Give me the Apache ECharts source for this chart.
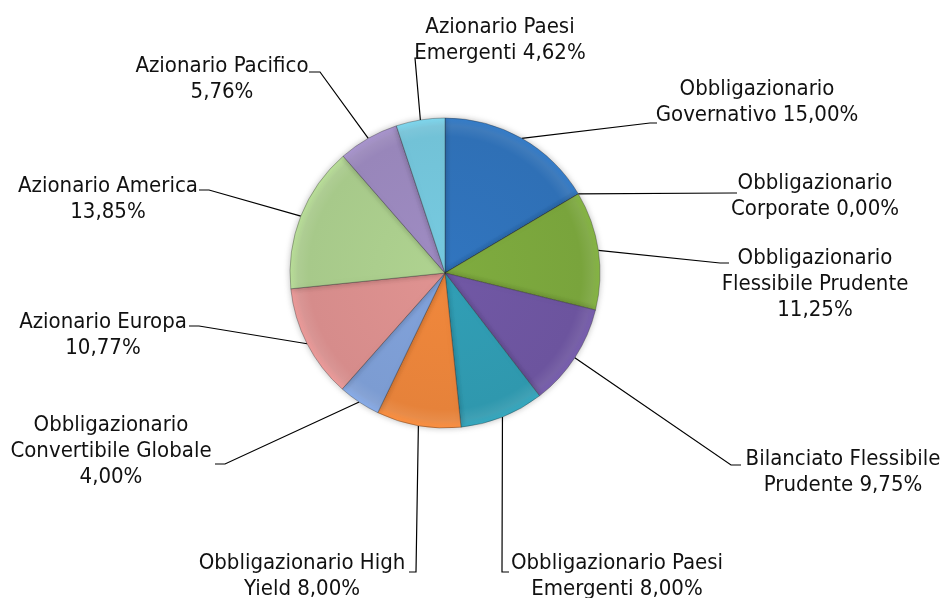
<!DOCTYPE html>
<html>
<head>
<meta charset="UTF-8">
<title>Composizione portafoglio</title>
<script src="https://cdn.jsdelivr.net/npm/echarts@6/dist/echarts.min.js"></script>
<style>
  html, body { margin: 0; padding: 0; background: #fff; }
</style>
</head>
<body>
<div id="container" style="width: 944px; height: 598px;"></div>
<script>
// categorie (con gli a-capo delle etichette) e valori in %
var names = [
    'Obbligazionario\nGovernativo',
    'Obbligazionario\nCorporate',
    'Obbligazionario\nFlessibile Prudente',
    'Bilanciato Flessibile\nPrudente',
    'Obbligazionario Paesi\nEmergenti',
    'Obbligazionario High\nYield',
    'Obbligazionario\nConvertibile Globale',
    'Azionario Europa',
    'Azionario America',
    'Azionario Pacifico',
    'Azionario Paesi\nEmergenti'
];
var values = [15.00, 0.00, 11.25, 9.75, 8.00, 8.00, 4.00, 10.77, 13.85, 5.76, 4.62];
// separatore tra nome e valore nell'etichetta
var seps = [' ', ' ', '\n', ' ', ' ', ' ', '\n', '\n', '\n', '\n', ' '];
var colors = ['#2f70b6', '#c0504d', '#79a43c', '#6c549e', '#2f98ae', '#e6823a',
              '#7c9cd2', '#d68c8b', '#a7c98a', '#9886ba', '#72c2d7'];

// posizione delle etichette: centro testo, gomito della linea, fine della linea
var labelPos = [
    { cx: 757, cy: 102, p1: [650, 123], p2: [657, 123] },
    { cx: 815, cy: 196, p1: [733, 193], p2: [737, 193] },
    { cx: 815, cy: 284, p1: [720, 263], p2: [729, 263] },
    { cx: 843, cy: 472, p1: [731, 465], p2: [741, 465] },
    { cx: 617, cy: 576, p1: [502, 572], p2: [509, 572] },
    { cx: 302, cy: 576, p1: [416, 572], p2: [409, 572] },
    { cx: 111, cy: 451, p1: [225, 464], p2: [215, 464] },
    { cx: 103, cy: 335, p1: [199, 326], p2: [189, 326] },
    { cx: 108, cy: 199, p1: [209, 190], p2: [199, 190] },
    { cx: 222, cy: 79,  p1: [320, 72],  p2: [309, 72] },
    { cx: 500, cy: 40,  p1: [415, 58],  p2: [418, 58] }
];

var CX = 445, CY = 273, R = 155;

function fmt(v) {
    return v.toFixed(2).replace('.', ',') + '%';
}

// leggero effetto smussato sul bordo delle fette
function shade(c) {
    return {
        type: 'radial', x: CX, y: CY, r: R, global: true,
        colorStops: [
            { offset: 0, color: echarts.color.lift(c, -0.05) },
            { offset: 0.88, color: c },
            { offset: 0.95, color: echarts.color.lift(c, 0.08) },
            { offset: 1, color: echarts.color.lift(c, -0.12) }
        ]
    };
}

var data = [];
for (var i = 0; i < names.length; i++) {
    data.push({ name: names[i], value: values[i], itemStyle: { color: shade(colors[i]) } });
}

var mychart = echarts.init(document.getElementById('container'));

var option = {
    animation: false,
    backgroundColor: '#ffffff',
    series: [{
        type: 'pie',
        center: [CX, CY],
        radius: R,
        startAngle: 90,
        clockwise: true,
        avoidLabelOverlap: false,
        stillShowZeroSum: true,
        data: data,
        itemStyle: {
            borderColor: 'rgba(40,40,40,0.35)',
            borderWidth: 1,
            shadowBlur: 6,
            shadowColor: 'rgba(0,0,0,0.25)'
        },
        label: {
            show: true,
            position: 'outside',
            color: '#111',
            fontFamily: '"DejaVu Sans Condensed", "DejaVu Sans", sans-serif',
            fontSize: 22,
            lineHeight: 26,
            align: 'center',
            formatter: function (p) {
                return p.name + seps[p.dataIndex] + fmt(p.value);
            }
        },
        labelLine: {
            show: true,
            length: 20,
            length2: 10,
            lineStyle: { color: '#000', width: 1.2 }
        },
        labelLayout: function (params) {
            var lp = labelPos[params.dataIndex];
            var pts = params.labelLinePoints;
            if (pts) {
                pts[1] = lp.p1.slice();
                pts[2] = lp.p2.slice();
            }
            return {
                x: lp.cx,
                y: lp.cy,
                align: 'center',
                verticalAlign: 'middle',
                labelLinePoints: pts
            };
        },
        emphasis: { disabled: true }
    }]
};

mychart.setOption(option);
</script>
</body>
</html>
